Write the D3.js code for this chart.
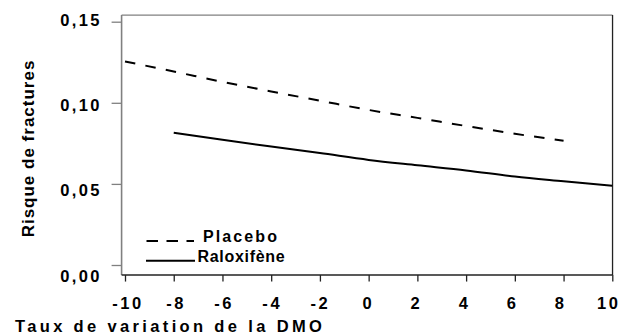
<!DOCTYPE html>
<html><head><meta charset="utf-8">
<script src="https://cdn.jsdelivr.net/npm/d3@7"></script>
<style>
html,body{margin:0;padding:0;background:#fff;}
svg text{font-family:"Liberation Sans",Arial,sans-serif;font-weight:bold;fill:#000;}
</style></head>
<body><svg id="c" width="620" height="335"></svg>
<script>
const xVals = [-10,-8,-6,-4,-2,0,2,4,6,8,10];
const placebo = [0.1255,0.1193,0.1129,0.1070,0.1013,0.0956,0.0907,0.0857,0.0809,0.0766,null];
const raloxifene = [null,0.0816,0.0772,0.0730,0.0690,0.0648,0.0615,0.0583,0.0545,0.0516,0.0488];
const xTicks = [-10,-8,-6,-4,-2,0,2,4,6,8,10];
const yTicks = [0,0.05,0.10,0.15];
const yTickLabels = ["0,00","0,05","0,10","0,15"];
const seriesNames = ["Placebo","Raloxifène"];
const xTitle = "Taux de variation de la DMO";
const yTitle = "Risque de fractures";

const svg = d3.select("#c");
const x = d3.scaleLinear().domain([-10,10]).range([125,612.3]);
const y = d3.scaleLinear().domain([0,0.15]).range([265,21.7]);
// tick-label placement scales (labels in the original are spread slightly wider than ticks)
const xLab = d3.scaleLinear().domain([-10,10]).range([126.7,607.5]);
const yLab = d3.scaleLinear().domain([0,0.15]).range([275.8,19.5]);
const L = x(-10.14), R = x(10.01), T = y(0.1541), B = y(-0.0062);

// frame
svg.append("line").attr("x1",L).attr("x2",L).attr("y1",T).attr("y2",B).attr("stroke","#808080").attr("stroke-width",1.6);
svg.append("line").attr("x1",L).attr("x2",R).attr("y1",T).attr("y2",T).attr("stroke","#808080").attr("stroke-width",1.3);
svg.append("line").attr("x1",R).attr("x2",R).attr("y1",T).attr("y2",B).attr("stroke","#222").attr("stroke-width",1.3);
svg.append("line").attr("x1",L).attr("x2",R).attr("y1",B).attr("y2",B).attr("stroke","#222").attr("stroke-width",1.5);

// y axis
const ya = svg.append("g").attr("transform",`translate(${L},0)`)
  .call(d3.axisLeft(y).tickValues(yTicks).tickSize(10).tickFormat(""));
ya.select(".domain").remove();
ya.selectAll("line").attr("stroke","#808080").attr("stroke-width",1.3);
const ySp = 2.4;
yTicks.forEach((t,i)=>{
  svg.append("text").attr("x",99.5+ySp).attr("y",yLab(t)+6).attr("text-anchor","end")
    .style("font-size","16.5px").style("letter-spacing",ySp+"px").text(yTickLabels[i]);
});

// x axis
const xa = svg.append("g").attr("transform",`translate(0,${B})`)
  .call(d3.axisBottom(x).tickValues(xTicks).tickSize(6.5).tickFormat(""));
xa.select(".domain").remove();
xa.selectAll("line").attr("stroke","#222").attr("stroke-width",1.3);
const xSp = 2.6;
xTicks.forEach(t=>{
  svg.append("text").attr("x",xLab(t)+xSp/2).attr("y",308.5).attr("text-anchor","middle")
    .style("font-size","16.5px").style("letter-spacing",xSp+"px").text(String(t));
});

// titles
svg.append("text").attr("x",15).attr("y",331.8).style("font-size","16.5px").style("letter-spacing","3.35px").text(xTitle);
svg.append("text").attr("transform","translate(33.5,148.5) rotate(-90)").attr("text-anchor","middle")
  .style("font-size","17px").style("letter-spacing","1px").text(yTitle);

// lines
const line = d3.line().defined(d=>d[1]!=null).x(d=>x(d[0])).y(d=>y(d[1])).curve(d3.curveMonotoneX);
svg.append("path").datum(xVals.map((v,i)=>[v,placebo[i]])).attr("d",line)
  .attr("fill","none").attr("stroke","#000").attr("stroke-width",2).attr("stroke-dasharray","10.5,10.3");
svg.append("path").datum(xVals.map((v,i)=>[v,raloxifene[i]])).attr("d",line)
  .attr("fill","none").attr("stroke","#000").attr("stroke-width",2);

// legend
svg.append("line").attr("x1",146.5).attr("x2",194).attr("y1",241).attr("y2",241)
  .attr("stroke","#000").attr("stroke-width",2).attr("stroke-dasharray","11.5,8.5");
svg.append("line").attr("x1",146).attr("x2",195).attr("y1",260.7).attr("y2",260.7)
  .attr("stroke","#000").attr("stroke-width",2);
svg.append("text").attr("x",203).attr("y",241.5).style("font-size","16px").style("letter-spacing","2.1px").text(seriesNames[0]);
svg.append("text").attr("x",197.5).attr("y",261.5).style("font-size","16px").style("letter-spacing","0.7px").text(seriesNames[1]);
</script></body></html>
